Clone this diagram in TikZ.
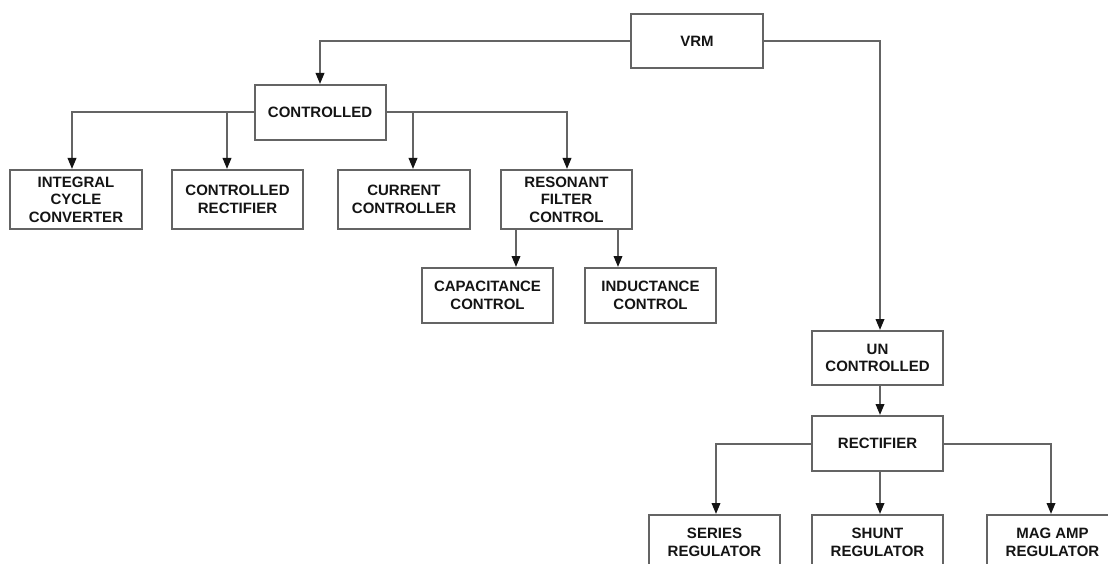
\documentclass[tikz,border=0pt]{standalone}
\usepackage{fontspec}
\setmainfont{Liberation Sans}
\usetikzlibrary{arrows.meta}
\definecolor{linegray}{RGB}{100,100,100}
\definecolor{textdark}{RGB}{20,20,20}
\begin{document}
\begin{tikzpicture}[x=1pt,y=-1pt,
  box/.style={draw=linegray,line width=2pt,rectangle,inner sep=0pt,
    minimum width=131pt,minimum height=55pt,align=center,text=textdark,
    font=\bfseries\fontsize{15}{17.5}\selectfont},
  tallbox/.style={box,minimum height=59pt},
  arr/.style={draw=linegray,line width=2pt,
    -{Triangle[length=11pt,width=8.5pt,color=textdark]}}]
\useasboundingbox (0,0) rectangle (1108,564);
\clip (0,0) rectangle (1108,564);

% top level
\node[box,minimum width=132pt,minimum height=54pt] (vrm) at (697,41) {VRM};

% controlled branch
\node[box] (ctrl) at (320,112.5) {CONTROLLED};
\node[tallbox,minimum width=132pt] (icc) at (76,199.5) {INTEGRAL\\CYCLE\\CONVERTER};
\node[tallbox] (crect) at (237.5,199.5) {CONTROLLED\\RECTIFIER};
\node[tallbox,minimum width=132pt] (cc) at (404,199.5) {CURRENT\\CONTROLLER};
\node[tallbox] (rfc) at (566.5,199.5) {RESONANT\\FILTER\\CONTROL};
\node[box] (cap) at (487.5,295.5) {CAPACITANCE\\CONTROL};
\node[box] (ind) at (650.5,295.5) {INDUCTANCE\\CONTROL};

% uncontrolled branch
\node[box,minimum height=54pt] (unc) at (877.5,358) {UN\\CONTROLLED};
\node[box] (rect) at (877.5,443.5) {RECTIFIER};
\node[box] (ser) at (714.5,542.5) {SERIES\\REGULATOR};
\node[box] (shu) at (877.5,542.5) {SHUNT\\REGULATOR};
\node[box] (mag) at (1052.5,542.5) {MAG AMP\\REGULATOR};

% branch points on the box sides
\coordinate (cw) at ([yshift=0.5pt]ctrl.west);
\coordinate (ce) at ([yshift=0.5pt]ctrl.east);
\coordinate (rw) at ([yshift=-0.5pt]rect.west);
\coordinate (re) at ([yshift=-0.5pt]rect.east);

% connectors
\draw[arr] (vrm.west) -| (ctrl.north);
\draw[arr] (vrm.east) -| ([xshift=2.5pt]unc.north);

\draw[arr] (cw) -| ([xshift=-4pt]icc.north);
\draw[arr] ([xshift=-10.5pt]crect.north |- cw) -- ([xshift=-10.5pt]crect.north);
\draw[arr] ([xshift=9pt]cc.north |- ce) -- ([xshift=9pt]cc.north);
\draw[arr] (ce) -| ([xshift=0.5pt]rfc.north);

\draw[arr] ([xshift=28.5pt]cap.north |- rfc.south) -- ([xshift=28.5pt]cap.north);
\draw[arr] ([xshift=-32.5pt]ind.north |- rfc.south) -- ([xshift=-32.5pt]ind.north);

\draw[arr] ([xshift=2.5pt]unc.south) -- ([xshift=2.5pt]rect.north);
\draw[arr] (rw) -| ([xshift=1.5pt]ser.north);
\draw[arr] ([xshift=2.5pt]rect.south) -- ([xshift=2.5pt]shu.north);
\draw[arr] (re) -| ([xshift=-1.5pt]mag.north);
\end{tikzpicture}
\end{document}
